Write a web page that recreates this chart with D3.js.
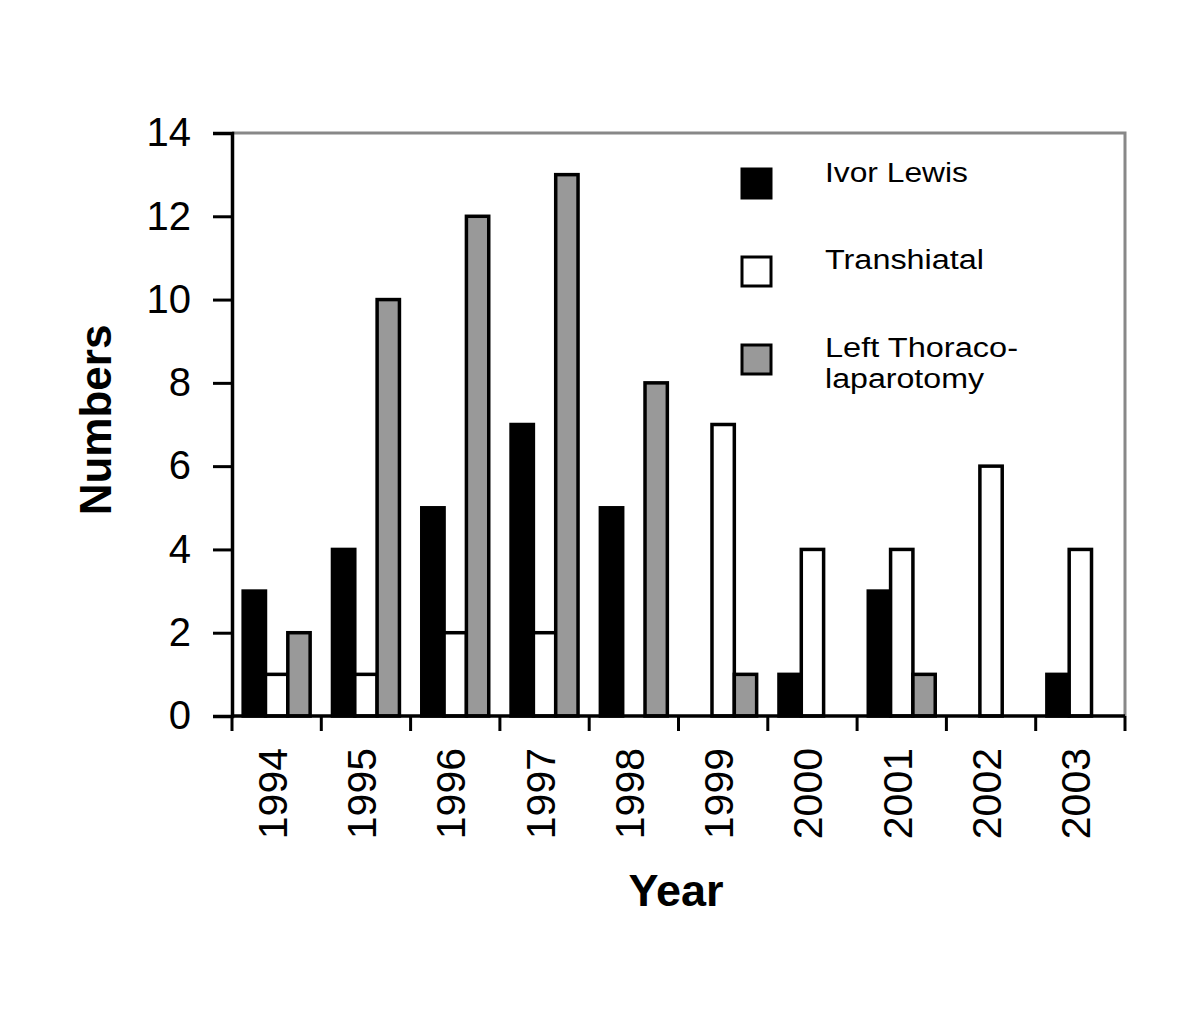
<!DOCTYPE html>
<html><head><meta charset="utf-8">
<script src="https://cdn.jsdelivr.net/npm/d3@7"></script>
<style>body{margin:0;background:#fff}svg{display:block}text{font-family:"Liberation Sans",Arial,sans-serif;fill:#000}</style>
</head><body>
<script>
const years = ["1994","1995","1996","1997","1998","1999","2000","2001","2002","2003"];
const seriesNames = ["Ivor Lewis","Transhiatal","Left Thoraco-laparotomy"];
const ivorLewis   = [3,4,5,7,5,0,1,3,0,1];
const transhiatal = [1,1,2,2,0,7,4,4,6,4];
const leftThoraco = [2,10,12,13,8,1,0,1,0,0];
const yTicks = [0,2,4,6,8,10,12,14];
const colors = ["#000000","#ffffff","#999999"];

const W=1200,H=1017;
const L=232,R=1125,T=133,B=716;
const svg=d3.select("body").append("svg").attr("width",W).attr("height",H);
const x=d3.scaleBand().domain(years).range([L,R]).padding(0);
const y=d3.scaleLinear().domain([0,14]).range([B,T]);
const sub=d3.scaleBand().domain(seriesNames).range([x.bandwidth()/8, x.bandwidth()*7/8]);

// top/right gray frame
svg.append("path").attr("d",`M${L},${T}H${R}V${B}`).attr("fill","none").attr("stroke","#888").attr("stroke-width",3);

const data=[ivorLewis,transhiatal,leftThoraco];
const g=svg.append("g");
years.forEach((yr,i)=>{
  seriesNames.forEach((s,j)=>{
    const v=data[j][i];
    if(v<=0) return;
    g.append("rect").attr("x",x(yr)+sub(s)).attr("width",sub.bandwidth())
     .attr("y",y(v)).attr("height",y(0)-y(v))
     .attr("fill",colors[j]).attr("stroke","#000").attr("stroke-width",3.5);
  });
});

// y axis
const ya=svg.append("g").attr("transform",`translate(${L},0)`)
  .call(d3.axisLeft(y).tickValues(yTicks).tickSize(19).tickPadding(22));
ya.select(".domain").attr("stroke-width",3.5);
ya.selectAll(".tick line").attr("stroke-width",3);
ya.selectAll("text").style("font-size","40px").attr("font-family","Liberation Sans, Arial, sans-serif");

// x axis
const xa=svg.append("g").attr("transform",`translate(0,${B})`)
  .call(d3.axisBottom(x).tickValues([]).tickSize(0));
xa.select(".domain").attr("stroke-width",3.5).attr("d",`M${L},0H${R}`);
const tickPos=d3.range(years.length+1).map(i=>L+i*x.bandwidth());
svg.append("g").selectAll("line").data(tickPos).join("line")
  .attr("x1",d=>d).attr("x2",d=>d).attr("y1",B).attr("y2",B+15)
  .attr("stroke","#000").attr("stroke-width",3);
svg.append("g").selectAll("text").data(years).join("text")
  .attr("transform",d=>`translate(${x(d)+x.bandwidth()/2-4},748) rotate(-90)`)
  .attr("text-anchor","end").attr("dominant-baseline","central")
  .style("font-size","41px").text(d=>d);

// axis titles
svg.append("text").attr("transform","translate(95,420) rotate(-90)")
  .attr("text-anchor","middle").attr("dominant-baseline","central")
  .style("font-size","44px").style("font-weight","bold").text("Numbers");
svg.append("text").attr("x",676).attr("y",906).attr("text-anchor","middle")
  .style("font-size","45px").style("font-weight","bold").text("Year");

// legend
const legY=[184,272,360];
const legLabels=[["Ivor Lewis"],["Transhiatal"],["Left Thoraco-","laparotomy"]];
const legW=[[143],[159],[193],[160]];
seriesNames.forEach((s,j)=>{
  svg.append("rect").attr("x",742).attr("y",legY[j]-15).attr("width",29).attr("height",29)
    .attr("fill",colors[j]).attr("stroke","#000").attr("stroke-width",3);
});
svg.append("text").attr("x",825).attr("y",182).style("font-size","27px")
  .attr("textLength",143).attr("lengthAdjust","spacingAndGlyphs").text(legLabels[0][0]);
svg.append("text").attr("x",825).attr("y",269).style("font-size","27px")
  .attr("textLength",159).attr("lengthAdjust","spacingAndGlyphs").text(legLabels[1][0]);
svg.append("text").attr("x",825).attr("y",357).style("font-size","27px")
  .attr("textLength",193).attr("lengthAdjust","spacingAndGlyphs").text(legLabels[2][0]);
svg.append("text").attr("x",825).attr("y",388).style("font-size","27px")
  .attr("textLength",159).attr("lengthAdjust","spacingAndGlyphs").text(legLabels[2][1]);
</script>
</body></html>
